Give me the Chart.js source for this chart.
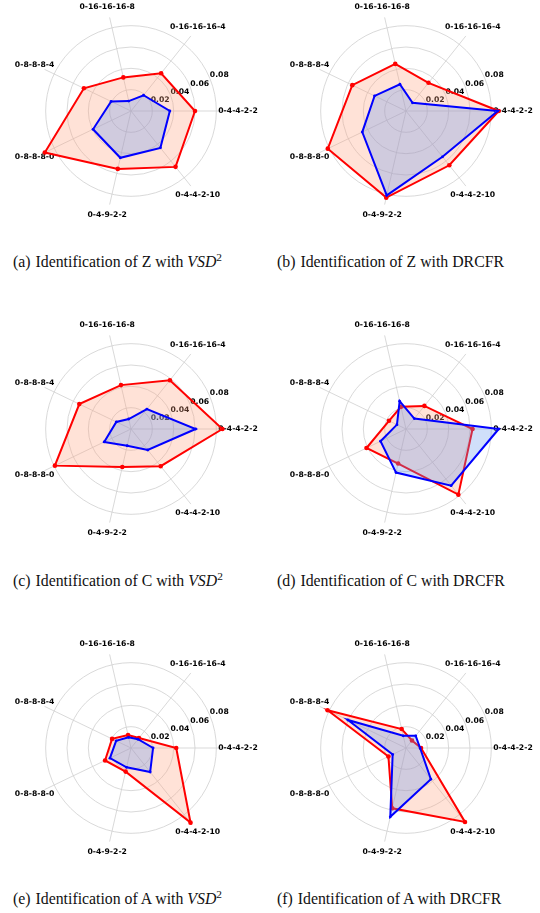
<!DOCTYPE html>
<html><head><meta charset="utf-8">
<script src="https://cdn.jsdelivr.net/npm/chart.js@4.4.0/dist/chart.umd.min.js"></script>
<style>
html,body{margin:0;padding:0;background:#fff;width:540px;height:913px;overflow:hidden;position:relative;}
canvas{position:absolute;}
.cap{position:absolute;font-family:"Liberation Serif","DejaVu Serif",serif;font-size:15.8px;line-height:18px;white-space:nowrap;color:#111;}
.cap .tag{margin-right:5px;}
.cap sup{font-size:0.72em;line-height:0;vertical-align:0.55em;}
</style></head><body>
<canvas id="ca" width="270" height="240" style="left:0px;top:0px"></canvas>
<canvas id="cb" width="270" height="240" style="left:275px;top:0px"></canvas>
<canvas id="cc" width="270" height="240" style="left:0px;top:318px"></canvas>
<canvas id="cd" width="270" height="240" style="left:275px;top:318px"></canvas>
<canvas id="ce" width="270" height="240" style="left:0px;top:637px"></canvas>
<canvas id="cf" width="270" height="240" style="left:275px;top:637px"></canvas>
<div class="cap" style="left:13px;top:253px"><span class="tag">(a)</span>Identification of Z with <i>VSD</i><sup>2</sup></div>
<div class="cap" style="left:277px;top:253px"><span class="tag">(b)</span>Identification of Z with DRCFR</div>
<div class="cap" style="left:13px;top:572px"><span class="tag">(c)</span>Identification of C with <i>VSD</i><sup>2</sup></div>
<div class="cap" style="left:277px;top:572px"><span class="tag">(d)</span>Identification of C with DRCFR</div>
<div class="cap" style="left:13px;top:890px"><span class="tag">(e)</span>Identification of A with <i>VSD</i><sup>2</sup></div>
<div class="cap" style="left:277px;top:890px"><span class="tag">(f)</span>Identification of A with DRCFR</div>
<script>
// Axis categories, clockwise starting at the right (east)
const axisLabels = ['0-4-4-2-2','0-4-4-2-10','0-4-9-2-2','0-8-8-8-0','0-8-8-8-4','0-16-16-16-8','0-16-16-16-4'];
const tickValues = [0.02, 0.04, 0.06, 0.08];
const tickLabels = ['0.02', '0.04', '0.06', '0.08'];

// (a) Z with VSD^2
const aRed  = [0.0600, 0.0670, 0.0557, 0.0897, 0.0490, 0.0323, 0.0453];
const aBlue = [0.0364, 0.0442, 0.0450, 0.0395, 0.0207, 0.0095, 0.0189];
// (b) Z with DRCFR
const bRed  = [0.0869, 0.0651, 0.0833, 0.0814, 0.0559, 0.0453, 0.0338];
const bBlue = [0.0860, 0.0549, 0.0811, 0.0455, 0.0327, 0.0257, 0.0098];
// (c) C with VSD^2
const cRed  = [0.0857, 0.0446, 0.0366, 0.0792, 0.0538, 0.0422, 0.0585];
const cBlue = [0.0606, 0.0252, 0.0161, 0.0279, 0.0153, 0.0096, 0.0239];
// (d) C with DRCFR
const dRed  = [0.0624, 0.0787, 0.0332, 0.0411, 0.0177, 0.0213, 0.0277];
const dBlue = [0.0869, 0.0679, 0.0419, 0.0265, 0.0094, 0.0268, 0.0125];
// (e) A with VSD^2
const eRed  = [0.0424, 0.0895, 0.0227, 0.0270, 0.0197, 0.0124, 0.0120];
const eBlue = [0.0207, 0.0288, 0.0186, 0.0219, 0.0155, 0.0102, 0.0105];
// (f) A with DRCFR
const fRed  = [0.0141, 0.0887, 0.0580, 0.0183, 0.0816, 0.0182, 0.0090];
const fBlue = [0.0132, 0.0374, 0.0662, 0.0139, 0.0605, 0.0117, 0.0146];

const labelPlugin = {
  id: 'mplLabels',
  beforeDatasetsDraw(chart) {
    const s = chart.scales.r;
    const ctx = chart.ctx;
    ctx.save();
    ctx.fillStyle = '#000';
    ctx.font = 'bold 7.7px "DejaVu Sans"';
    ctx.textAlign = 'center';
    ctx.textBaseline = 'middle';
    chart.data.labels.forEach((lab, i) => {
      const p = s.getPointPosition(i, s.drawingArea + 11);
      ctx.fillText(lab, p.x, p.y);
    });
    ctx.font = 'bold 7.7px "DejaVu Sans"';
    ctx.textAlign = 'left';
    ctx.textBaseline = 'bottom';
    const a = 22.5 * Math.PI / 180;
    tickValues.forEach((v, j) => {
      const d = s.getDistanceFromCenterForValue(v);
      ctx.fillText(tickLabels[j], s.xCenter + d * Math.cos(a), s.yCenter - d * Math.sin(a) + 1);
    });
    ctx.restore();
  }
};

function makeRadar(id, red, blue) {
  new Chart(document.getElementById(id), {
    type: 'radar',
    data: {
      labels: axisLabels,
      datasets: [
        { data: red, order: 2, borderColor: '#ff0000', backgroundColor: 'rgba(255,160,122,0.3)',
          borderWidth: 2, pointRadius: 2.3, pointBackgroundColor: '#ff0000', pointBorderWidth: 0,
          fill: true, clip: false },
        { data: blue, order: 1, borderColor: '#0000ff', backgroundColor: 'rgba(100,149,237,0.3)',
          borderWidth: 2, pointRadius: 1.4, pointBackgroundColor: '#0000ff', pointBorderWidth: 0,
          fill: true, clip: false }
      ]
    },
    options: {
      responsive: false,
      animation: false,
      devicePixelRatio: 1,
      layout: { padding: { left: 35, right: 43, top: 15, bottom: 33 } },
      plugins: { legend: { display: false }, tooltip: { enabled: false } },
      elements: { line: { tension: 0 } },
      scales: {
        r: {
          min: 0, max: 0.09, startAngle: 90,
          ticks: { display: false, stepSize: 0.02 },
          pointLabels: { display: false },
          grid: { circular: true, lineWidth: 0.8,
            color: (c) => (c.tick && c.tick.value > 0.081) ? 'rgba(0,0,0,0)' : '#cfcfcf' },
          angleLines: { display: true, color: '#cfcfcf', lineWidth: 0.8 }
        }
      }
    },
    plugins: [labelPlugin]
  });
}

makeRadar('ca', aRed, aBlue);
makeRadar('cb', bRed, bBlue);
makeRadar('cc', cRed, cBlue);
makeRadar('cd', dRed, dBlue);
makeRadar('ce', eRed, eBlue);
makeRadar('cf', fRed, fBlue);
</script>
</body></html>
